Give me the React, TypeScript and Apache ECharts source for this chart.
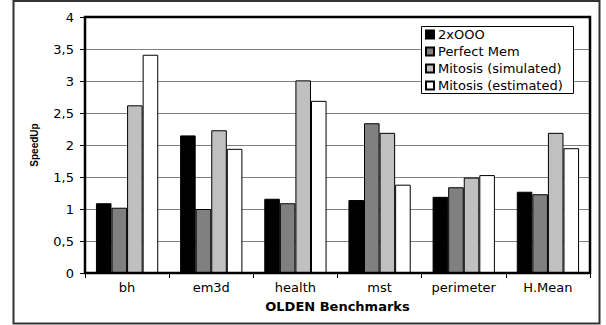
import React, { useEffect, useRef } from "react";
import * as echarts from "echarts";

const categories = ["bh", "em3d", "health", "mst", "perimeter", "H.Mean"];
const seriesNames = ["2xOOO", "Perfect Mem", "Mitosis (simulated)", "Mitosis (estimated)"];
const ooo = [1.09, 2.15, 1.16, 1.14, 1.19, 1.27];
const perfectMem = [1.02, 1.0, 1.09, 2.34, 1.34, 1.23];
const simulated = [2.62, 2.23, 3.01, 2.19, 1.49, 2.19];
const estimated = [3.41, 1.94, 2.69, 1.38, 1.53, 1.95];
const seriesColors = ["#000000", "#808080", "#c0c0c0", "#ffffff"];

const FONT = "DejaVu Sans";

export default function App() {
  const ref = useRef<HTMLDivElement>(null);
  useEffect(() => {
    if (!ref.current) return;
    const chart = echarts.init(ref.current, null, { renderer: "svg" });
    const values = [ooo, perfectMem, simulated, estimated];
    chart.setOption({
      animation: false,
      backgroundColor: "#ffffff",
      textStyle: { fontFamily: FONT },
      grid: {
        left: 85,
        right: 16,
        top: 17,
        bottom: 52,
        show: true,
        borderColor: "#000",
        borderWidth: 2.5,
        backgroundColor: "transparent",
        z: 3,
      },
      legend: {
        show: true,
        orient: "vertical",
        left: 425,
        top: 27,
        padding: 0,
        itemWidth: 8,
        itemHeight: 8,
        itemGap: 2,
        icon: "rect",
        z: 12,
        textStyle: { fontFamily: FONT, fontSize: 13, color: "#000", lineHeight: 15, padding: [0, 0, 0, -1] },
        data: seriesNames,
      },
      graphic: [
        {
          type: "rect",
          shape: { x: 13.5, y: 1, width: 586, height: 322.5 },
          style: { fill: "none", stroke: "#333", lineWidth: 2 },
          z: 1,
        },
        {
          type: "rect",
          shape: { x: 421.5, y: 26.5, width: 152, height: 67 },
          style: { fill: "#fff", stroke: "#000", lineWidth: 1 },
          z: 11,
        },
      ],
      xAxis: {
        type: "category",
        data: categories,
        axisLine: { show: true, lineStyle: { color: "#000", width: 2 } },
        axisTick: { show: true, alignWithLabel: false, length: 5, inside: false, lineStyle: { color: "#000" } },
        axisLabel: { fontFamily: FONT, fontSize: 13, color: "#000", margin: 8 },
        name: "OLDEN Benchmarks",
        nameLocation: "middle",
        nameGap: 27,
        nameTextStyle: { fontFamily: FONT, fontSize: 13, fontWeight: "bold", color: "#000" },
      },
      yAxis: {
        type: "value",
        min: 0,
        max: 4,
        interval: 0.5,
        axisLine: { show: true, lineStyle: { color: "#000", width: 2 } },
        axisTick: { show: true, length: 5, inside: false, lineStyle: { color: "#000" } },
        axisLabel: {
          fontFamily: FONT,
          fontSize: 13,
          color: "#000",
          margin: 11,
          formatter: (v: number) => String(v).replace(".", ","),
        },
        splitLine: { show: true, lineStyle: { color: "#808080", width: 1 } },
        name: "SpeedUp",
        nameLocation: "middle",
        nameGap: 46,
        nameTextStyle: { fontFamily: "Liberation Sans", fontSize: 10, fontWeight: "bold", color: "#000" },
      },
      series: seriesNames.map((name, i) => ({
        name,
        type: "bar",
        data: values[i],
        barGap: "0%",
        barCategoryGap: "26%",
        itemStyle: { color: seriesColors[i], borderColor: "#000", borderWidth: 1 },
      })),
    });
    return () => chart.dispose();
  }, []);
  return (
    <div
      ref={ref}
      style={{ position: "fixed", left: 0, top: 0, width: 606, height: 325 }}
    />
  );
}
